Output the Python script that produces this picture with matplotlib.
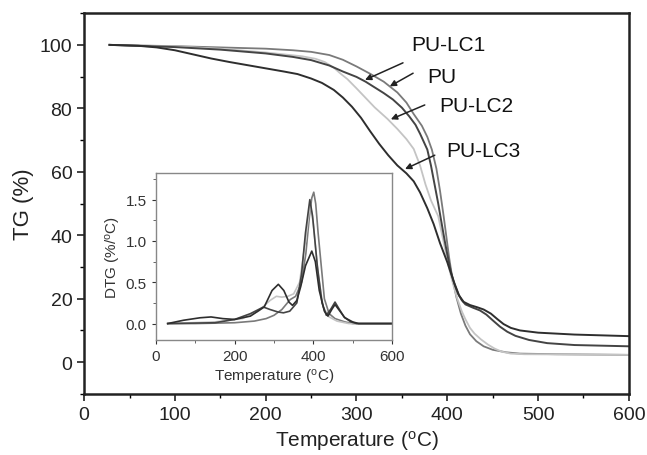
import matplotlib
matplotlib.use("Agg")
import matplotlib.pyplot as plt
from matplotlib.ticker import MultipleLocator

plt.rcParams['font.family'] = ['Liberation Sans', 'DejaVu Sans']
plt.rcParams['mathtext.default'] = 'regular'

# ---------------- TG data ----------------
pu_T = [28, 60, 100, 150, 200, 230, 250, 270, 285, 300, 315, 330, 345, 355, 363, 372, 378, 383, 388, 392, 396, 399, 402, 405, 410, 415, 420, 425, 432, 440, 450, 465, 480, 520, 600]
pu_TG = [100, 99.8, 99.6, 99.2, 98.8, 98.3, 97.8, 96.8, 95.3, 93.2, 90.9, 88.4, 85.0, 81.8, 78.2, 74.5, 71, 67, 61, 54, 46, 39.5, 33, 27.5, 20.5, 15.3, 11.5, 8.8, 6.6, 5.0, 3.9, 3.1, 2.7, 2.5, 2.3]

lc1_T = [28, 60, 100, 150, 200, 230, 250, 270, 285, 300, 310, 320, 330, 340, 350, 358, 365, 370, 374, 378, 382, 386, 390, 393, 397, 400, 404, 408, 412, 416, 420, 428, 436, 443, 450, 458, 466, 475, 490, 510, 540, 600]
lc1_TG = [100, 99.7, 99.3, 98.5, 97.3, 96.2, 95.2, 93.5, 91.6, 89.9, 88.4, 86.6, 84.8, 82.8, 80.2, 77.5, 74.8, 72, 69.5, 67, 62, 56, 50, 45, 38.5, 34, 28.5, 24.5, 21.5, 19.5, 18.2, 17.2, 16.3, 15.0, 13.2, 11.2, 9.6, 8.3, 7.0, 6.0, 5.4, 5.0]

lc2_T = [28, 100, 150, 200, 240, 255, 265, 275, 283, 290, 300, 310, 320, 334, 345, 355, 363, 370, 376, 382, 390, 394, 398, 402, 406, 411, 416, 420, 425, 430, 437, 445, 452, 460, 470, 485, 600]
lc2_TG = [100, 99.5, 98.8, 97.6, 96.4, 95.6, 94.6, 92.8, 90.8, 89.2, 86.3, 83.3, 80.3, 76.7, 73.5, 70.3, 67.2, 62, 56, 51, 46, 40.5, 35, 29.5, 25, 20, 16, 13.5, 10.8, 9.0, 7.2, 5.5, 4.3, 3.3, 2.7, 2.5, 2.3]

lc3_T = [28, 60, 80, 100, 120, 140, 160, 180, 200, 220, 235, 250, 262, 275, 285, 295, 305, 315, 325, 335, 345, 355, 363, 370, 378, 385, 392, 400, 407, 413, 418, 425, 433, 440, 448, 455, 462, 470, 480, 500, 540, 600]
lc3_TG = [100, 99.7, 99.2, 98.3, 97.0, 95.7, 94.6, 93.6, 92.6, 91.6, 90.8, 89.4, 88.0, 85.8, 83.4, 80.5, 77.0, 72.8, 68.8, 65.2, 62.0, 59.5, 57.0, 53.5, 48.5, 43.5, 37.5, 31.5, 25.5, 21.0, 19.0, 18.0, 17.3, 16.6, 15.3, 13.6, 12.0, 10.8, 10.0, 9.3, 8.7, 8.2]

# ---------------- DTG data ----------------
pu_dT = [30, 100, 200, 250, 280, 300, 320, 341, 355, 370, 381, 390, 396, 401, 406, 412, 418, 428, 440, 455, 480, 500, 600]
pu_DTG = [0, 0, 0.01, 0.03, 0.06, 0.1, 0.17, 0.29, 0.33, 0.5, 0.85, 1.3, 1.52, 1.59, 1.45, 1.1, 0.8, 0.3, 0.12, 0.06, 0.02, 0, 0]

lc1_dT = [30, 150, 200, 240, 273, 290, 310, 324, 340, 358, 370, 380, 391, 398, 410, 422, 433, 445, 455, 465, 478, 495, 510, 600]
lc1_DTG = [0, 0.01, 0.05, 0.12, 0.2, 0.17, 0.14, 0.13, 0.15, 0.25, 0.6, 1.1, 1.5, 1.3, 0.7, 0.25, 0.1, 0.18, 0.26, 0.18, 0.08, 0.02, 0, 0]

lc2_dT = [30, 150, 220, 260, 290, 306, 320, 335, 350, 365, 380, 392, 400, 412, 425, 440, 460, 490, 600]
lc2_DTG = [0, 0.02, 0.06, 0.15, 0.28, 0.33, 0.32, 0.33, 0.36, 0.5, 1.0, 1.46, 1.2, 0.6, 0.2, 0.08, 0.03, 0, 0]

lc3_dT = [30, 70, 112, 140, 170, 200, 240, 275, 295, 311, 325, 338, 347, 358, 368, 380, 396, 405, 415, 428, 437, 448, 455, 466, 480, 500, 515, 600]
lc3_DTG = [0, 0.04, 0.07, 0.08, 0.06, 0.05, 0.09, 0.2, 0.4, 0.475, 0.4, 0.26, 0.22, 0.28, 0.45, 0.7, 0.877, 0.75, 0.4, 0.15, 0.09, 0.18, 0.23, 0.16, 0.07, 0.02, 0, 0]

labels = ['PU-LC1', 'PU', 'PU-LC2', 'PU-LC3']

c_dark = '#2e2e2e'
c_mid = '#7a7a7a'
c_light = '#c4c4c4'
c_dark2 = '#444444'

fig = plt.figure(figsize=(6.47, 4.56), dpi=100)
ax = fig.add_axes([0.130, 0.134, 0.842, 0.835])

ax.plot(pu_T, pu_TG, color=c_mid, lw=1.3)
ax.plot(lc2_T, lc2_TG, color=c_light, lw=1.3)
ax.plot(lc1_T, lc1_TG, color=c_dark2, lw=1.4)
ax.plot(lc3_T, lc3_TG, color=c_dark, lw=1.4)

ax.set_xlim(0, 600)
ax.set_ylim(-10, 110)
ax.xaxis.set_major_locator(MultipleLocator(100))
ax.xaxis.set_minor_locator(MultipleLocator(50))
ax.yaxis.set_major_locator(MultipleLocator(20))
ax.yaxis.set_minor_locator(MultipleLocator(10))
ax.tick_params(which='major', direction='out', length=5, width=1.2, labelsize=14, colors='#222222')
ax.tick_params(which='minor', direction='out', length=3, width=1.0)
for s in ax.spines.values():
    s.set_linewidth(1.8)
    s.set_color('#222222')
ax.set_xlabel('Temperature ($^{o}$C)', fontsize=15, color='#222222', labelpad=4)
ax.set_ylabel('TG (%)', fontsize=16, color='#222222', labelpad=4)

# annotations
ann = [
    (labels[0], (401.5, 100), (354, 94.7), (306.6, 88.6)),
    (labels[1], (393.7, 89.9), (365, 91.5), (334, 86.5)),
    (labels[2], (432, 81), (378, 81.4), (335, 76.2)),
    (labels[3], (440, 66.6), (389, 65.6), (350.7, 60.5)),
]
for txt, tpos, tail, tip in ann:
    ax.text(tpos[0], tpos[1], txt, fontsize=15, ha='center', va='center', color='#111111')
    ax.annotate('', xy=tip, xytext=tail,
                arrowprops=dict(arrowstyle='-|>', color='#222222', lw=1.1, mutation_scale=9))

# inset
axi = fig.add_axes([0.241, 0.252, 0.365, 0.366])
axi.plot(pu_dT, pu_DTG, color=c_mid, lw=1.2)
axi.plot(lc2_dT, lc2_DTG, color=c_light, lw=1.2)
axi.plot(lc1_dT, lc1_DTG, color=c_dark2, lw=1.2)
axi.plot(lc3_dT, lc3_DTG, color=c_dark, lw=1.2)
axi.set_xlim(0, 600)
axi.set_ylim(-0.2, 1.82)
axi.xaxis.set_major_locator(MultipleLocator(200))
axi.xaxis.set_minor_locator(MultipleLocator(100))
axi.yaxis.set_major_locator(MultipleLocator(0.5))
axi.yaxis.set_minor_locator(MultipleLocator(0.25))
axi.tick_params(which='major', direction='out', length=3, width=0.8, labelsize=11, colors='#333333')
axi.tick_params(which='minor', direction='out', length=2, width=0.7, colors='#666666')
for s in axi.spines.values():
    s.set_linewidth(1.0)
    s.set_color('#888888')
axi.set_xlabel('Temperature ($^{o}$C)', fontsize=11, color='#333333', labelpad=3)
axi.set_ylabel('DTG (%/$^{o}$C)', fontsize=11, color='#333333', labelpad=2)

fig.savefig('out.png', dpi=100)
